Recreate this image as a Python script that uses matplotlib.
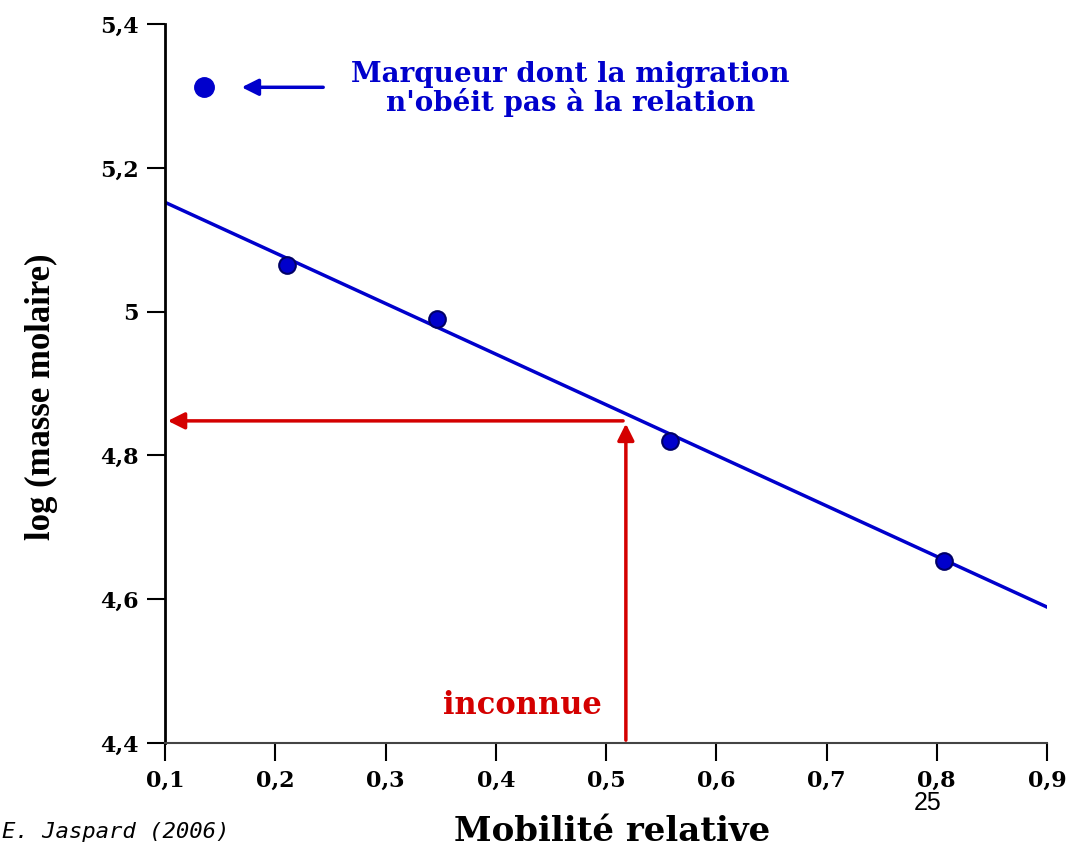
import matplotlib
matplotlib.use("Agg")
from matplotlib import pyplot as plt

# data
mobilite = [0.211, 0.347, 0.558, 0.807]
log_masse = [5.065, 4.990, 4.820, 4.653]
outlier_x = [0.135]
outlier_y = [5.312]
fit_x = [0.1, 0.9]
fit_y = [5.152, 4.589]
inconnue_x = 0.518
inconnue_y = 4.848

x_ticks = [0.1, 0.2, 0.3, 0.4, 0.5, 0.6, 0.7, 0.8, 0.9]
x_labels = ["0,1", "0,2", "0,3", "0,4", "0,5", "0,6", "0,7", "0,8", "0,9"]
y_ticks = [4.4, 4.6, 4.8, 5.0, 5.2, 5.4]
y_labels = ["4,4", "4,6", "4,8", "5", "5,2", "5,4"]

blue = "#0000cc"
red = "#d40000"
serif = "DejaVu Serif"

fig = plt.figure(figsize=(10.66, 8.52), dpi=100)
ax = fig.add_axes([0.1548, 0.128, 0.8274, 0.8438])

ax.plot(fit_x, fit_y, color=blue, lw=2.5, zorder=2)
ax.plot(mobilite, log_masse, "o", ms=12, color=blue, mec="#000066", mew=1.5, zorder=3)
ax.plot(outlier_x, outlier_y, "o", ms=14, color=blue, mec=blue, zorder=3)

# red arrows for the unknown sample
ax.annotate("", xy=(0.1, inconnue_y), xytext=(inconnue_x, inconnue_y),
            arrowprops=dict(arrowstyle="-|>", color=red, lw=2.5, mutation_scale=25))
ax.annotate("", xy=(inconnue_x, inconnue_y), xytext=(inconnue_x, 4.4),
            arrowprops=dict(arrowstyle="-|>", color=red, lw=2.5, mutation_scale=25))
ax.text(0.424, 4.452, "inconnue", color=red, fontsize=22, fontweight="bold",
        family=serif, ha="center", va="center")

# note about the outlier
ax.annotate("", xy=(0.167, 5.312), xytext=(0.246, 5.312),
            arrowprops=dict(arrowstyle="-|>", color=blue, lw=2.5, mutation_scale=25))
ax.text(0.468, 5.31, "Marqueur dont la migration\nn'obéit pas à la relation", color=blue,
        fontsize=20, fontweight="bold", family=serif, ha="center", va="center", linespacing=1.0)

ax.set_xlim(0.1, 0.9)
ax.set_ylim(4.4, 5.4)
ax.set_xticks(x_ticks)
ax.set_xticklabels(x_labels)
ax.set_yticks(y_ticks)
ax.set_yticklabels(y_labels)
for lab in ax.get_xticklabels() + ax.get_yticklabels():
    lab.set_family(serif)
    lab.set_fontweight("bold")
    lab.set_fontsize(16)
ax.tick_params(axis="both", direction="out", length=13, width=1.5, color="black", pad=6)

for side in ["top", "right"]:
    ax.spines[side].set_visible(False)
ax.spines["left"].set_linewidth(2)
ax.spines["bottom"].set_linewidth(1.5)
ax.spines["bottom"].set_color("#444444")

ax.set_xlabel("Mobilité relative", family=serif, fontweight="bold", fontsize=24.5)
ax.set_ylabel("log (masse molaire)", family="Liberation Serif", fontweight="bold", fontsize=25)
ax.xaxis.set_label_coords(0.507, -0.1)
ax.yaxis.set_label_coords(-0.121, 0.481)

fig.text(0.002, 0.023, "E. Jaspard (2006)", fontsize=16, style="italic",
         family="DejaVu Sans Mono", va="center")
fig.text(0.87, 0.057, "25", fontsize=18, family="Liberation Sans", ha="center", va="center")

fig.savefig("out.png", dpi=100)
